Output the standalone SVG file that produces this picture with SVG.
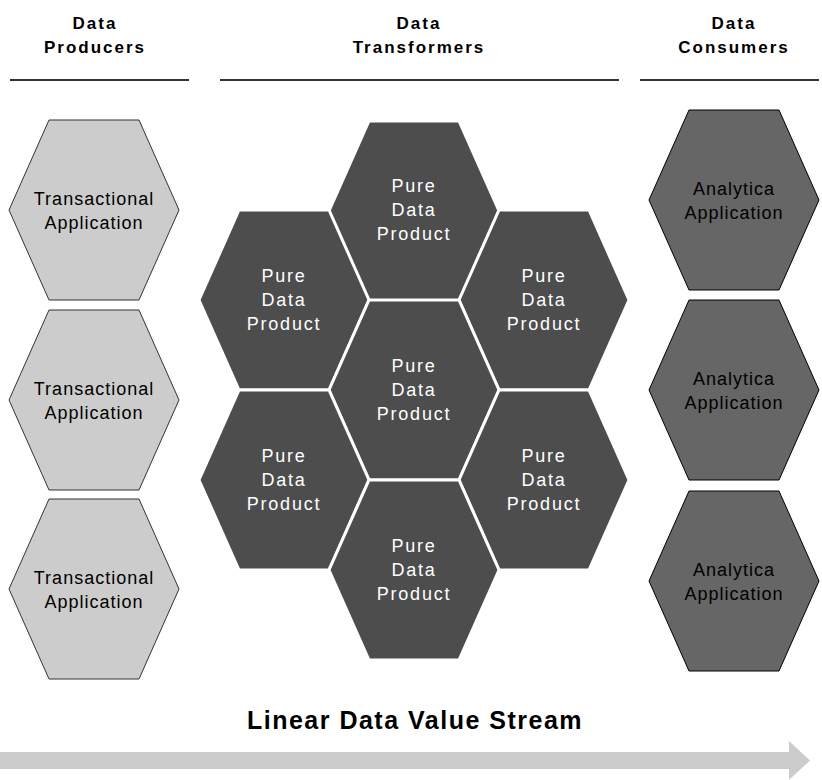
<svg xmlns="http://www.w3.org/2000/svg" width="822" height="780" viewBox="0 0 822 780">
<defs>
<style>
.hdr{font-family:"Liberation Sans",Arial,sans-serif;font-size:17px;font-weight:bold;fill:#000;text-anchor:middle;letter-spacing:2px}
.lbl{font-family:"Liberation Sans",Arial,sans-serif;font-size:18px;fill:#000;text-anchor:middle;letter-spacing:1px}
.wl{font-family:"Liberation Sans",Arial,sans-serif;font-size:18px;fill:#fff;text-anchor:middle;letter-spacing:1.8px}
.title{font-family:"Liberation Sans",Arial,sans-serif;font-size:25px;font-weight:bold;fill:#000;text-anchor:middle;letter-spacing:1.5px}
.prod{fill:#cccccc;stroke:#333;stroke-width:1}
.cons{fill:#666666;stroke:#000;stroke-width:1}
.pdp{fill:#4d4d4d;stroke:#fff;stroke-width:3}
.rule{stroke:#333;stroke-width:2}
</style>
<polygon id="hx" points="-45,-90 45,-90 85,0 45,90 -45,90 -85,0"/>
</defs>
<rect width="822" height="780" fill="#fff"/>
<g id="headers">
<text class="hdr" x="95" y="29">Data</text>
<text class="hdr" x="95" y="53">Producers</text>
<text class="hdr" x="419" y="29">Data</text>
<text class="hdr" x="419" y="53">Transformers</text>
<text class="hdr" x="734" y="29">Data</text>
<text class="hdr" x="734" y="53">Consumers</text>
<line class="rule" x1="10" y1="80" x2="189" y2="80"/>
<line class="rule" x1="220" y1="80" x2="619" y2="80"/>
<line class="rule" x1="640" y1="80" x2="819" y2="80"/>
</g>
<g id="producer1"><use href="#hx" class="prod" x="94" y="210"/><text class="lbl" x="94" y="205">Transactional</text><text class="lbl" x="94" y="229">Application</text></g>
<g id="producer2"><use href="#hx" class="prod" x="94" y="400"/><text class="lbl" x="94" y="395">Transactional</text><text class="lbl" x="94" y="419">Application</text></g>
<g id="producer3"><use href="#hx" class="prod" x="94" y="589"/><text class="lbl" x="94" y="584">Transactional</text><text class="lbl" x="94" y="608">Application</text></g>
<g id="pdp-top"><use href="#hx" class="pdp" x="414" y="211"/><text class="wl" x="414" y="192">Pure</text><text class="wl" x="414" y="216">Data</text><text class="wl" x="414" y="240">Product</text></g>
<g id="pdp-lu"><use href="#hx" class="pdp" x="284" y="300"/><text class="wl" x="284" y="282">Pure</text><text class="wl" x="284" y="306">Data</text><text class="wl" x="284" y="330">Product</text></g>
<g id="pdp-ru"><use href="#hx" class="pdp" x="544" y="300"/><text class="wl" x="544" y="282">Pure</text><text class="wl" x="544" y="306">Data</text><text class="wl" x="544" y="330">Product</text></g>
<g id="pdp-mid"><use href="#hx" class="pdp" x="414" y="390"/><text class="wl" x="414" y="372">Pure</text><text class="wl" x="414" y="396">Data</text><text class="wl" x="414" y="420">Product</text></g>
<g id="pdp-ll"><use href="#hx" class="pdp" x="284" y="480"/><text class="wl" x="284" y="462">Pure</text><text class="wl" x="284" y="486">Data</text><text class="wl" x="284" y="510">Product</text></g>
<g id="pdp-rl"><use href="#hx" class="pdp" x="544" y="480"/><text class="wl" x="544" y="462">Pure</text><text class="wl" x="544" y="486">Data</text><text class="wl" x="544" y="510">Product</text></g>
<g id="pdp-bot"><use href="#hx" class="pdp" x="414" y="570"/><text class="wl" x="414" y="552">Pure</text><text class="wl" x="414" y="576">Data</text><text class="wl" x="414" y="600">Product</text></g>
<g id="consumer1"><use href="#hx" class="cons" x="734" y="200"/><text class="lbl" x="734" y="195">Analytica</text><text class="lbl" x="734" y="219">Application</text></g>
<g id="consumer2"><use href="#hx" class="cons" x="734" y="390"/><text class="lbl" x="734" y="385">Analytica</text><text class="lbl" x="734" y="409">Application</text></g>
<g id="consumer3"><use href="#hx" class="cons" x="734" y="581"/><text class="lbl" x="734" y="576">Analytica</text><text class="lbl" x="734" y="600">Application</text></g>
<g id="connectors">
<text class="title" x="415" y="729">Linear Data Value Stream</text>
<polygon points="0,752 789,752 789,741 810,760.5 789,780 789,769 0,769" fill="#cccccc"/>
</g>
</svg>
